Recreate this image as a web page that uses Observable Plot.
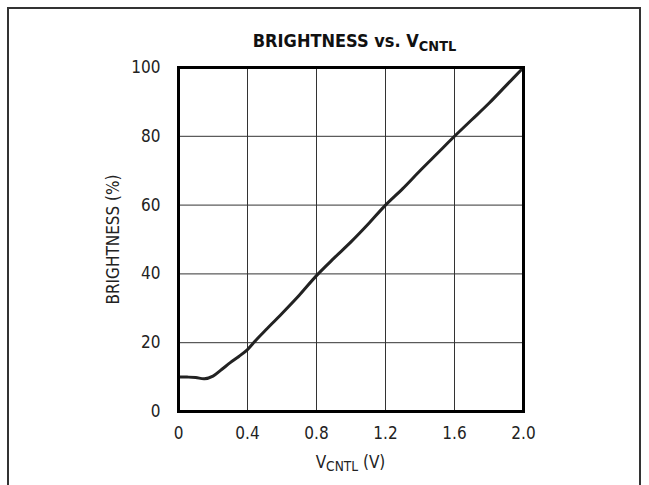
<!DOCTYPE html>
<html>
<head>
<meta charset="utf-8">
<script src="https://cdn.jsdelivr.net/npm/d3@7"></script>
<script src="https://cdn.jsdelivr.net/npm/@observablehq/plot@0.6"></script>
<style>
  body { margin: 0; background: #fff; }
  #wrap { position: relative; width: 649px; height: 485px; overflow: hidden; background: #fff; }
  #border { position: absolute; left: 7px; top: 7px; width: 630px; height: 500px; border: 2px solid #333; }
  .narrow { font-family: "DejaVu Sans", sans-serif; font-stretch: condensed; }
  #title { position: absolute; left: 182px; width: 345px; top: 30px; text-align: center; font-weight: bold; font-size: 18px; color: #111; }
  #title sub, #xlab sub { font-size: 0.8em; vertical-align: -0.25em; }
  #xlab { position: absolute; left: 178px; width: 345px; top: 452px; text-align: center; font-size: 17px; color: #222; }
  #chart { position: absolute; left: 0; top: 0; }
  #chart svg text { font-stretch: condensed; }
</style>
</head>
<body>
<div id="wrap">
  <div id="border"></div>
  <div id="chart"></div>
  <div id="title" class="narrow">BRIGHTNESS vs. V<sub>CNTL</sub></div>
  <div id="xlab" class="narrow">V<sub>CNTL</sub> (V)</div>
</div>
<script>
const vcntl = [0, 0.05, 0.1, 0.15, 0.2, 0.25, 0.3, 0.35, 0.4, 0.45, 0.5, 0.6, 0.7, 0.8, 0.9, 1.0, 1.1, 1.2, 1.3, 1.4, 1.5, 1.6, 1.7, 1.8, 1.9, 2.0];
const brightness = [10, 10, 9.9, 9.5, 10.3, 12.2, 14.2, 16, 18, 20.8, 23.4, 28.5, 33.8, 39.5, 44.5, 49.3, 54.5, 60, 64.8, 70, 75, 80, 84.8, 89.6, 94.8, 100];
const xTicks = [0, 0.4, 0.8, 1.2, 1.6, 2.0];
const xTickLabels = ["0", "0.4", "0.8", "1.2", "1.6", "2.0"];
const yTicks = [0, 20, 40, 60, 80, 100];

const data = vcntl.map((v, i) => ({v, b: brightness[i]}));
const fontFam = '"DejaVu Sans", sans-serif';

const plot = Plot.plot({
  width: 649,
  height: 485,
  marginLeft: 178,
  marginRight: 126,
  marginTop: 67,
  marginBottom: 74,
  style: {fontFamily: fontFam, fontSize: "17px", color: "#222", background: "transparent"},
  x: {domain: [0, 2], ticks: xTicks},
  y: {domain: [0, 100], ticks: yTicks},
  marks: [
    Plot.gridX(xTicks, {stroke: "#333", strokeOpacity: 1, strokeWidth: 1}),
    Plot.gridY(yTicks, {stroke: "#333", strokeOpacity: 1, strokeWidth: 1}),
    Plot.axisX(xTicks, {tickSize: 0, tickPadding: 15, label: null, tickFormat: (d, i) => xTickLabels[i], fontSize: 17}),
    Plot.axisY(yTicks, {tickSize: 0, tickPadding: 18, label: "BRIGHTNESS (%)", labelArrow: "none", labelAnchor: "center", labelOffset: 72, fontSize: 17}),
    Plot.line(data, {x: "v", y: "b", stroke: "#222", strokeWidth: 3, curve: "catmull-rom"}),
    Plot.frame({stroke: "#000", strokeWidth: 3})
  ]
});
document.getElementById("chart").appendChild(plot);
</script>
</body>
</html>
